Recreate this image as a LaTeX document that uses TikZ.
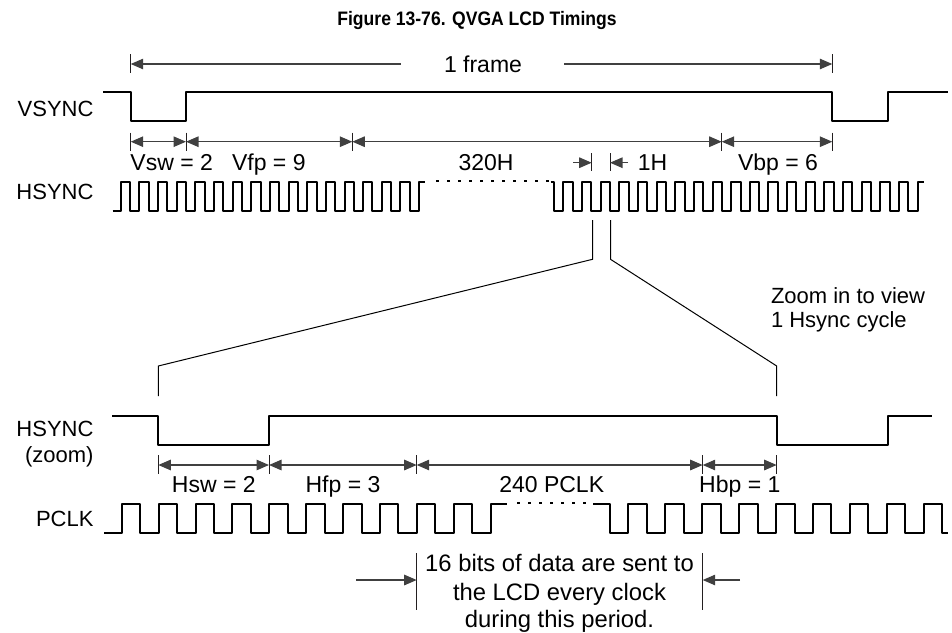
\documentclass[tikz,border=0pt]{standalone}
\usepackage{fontspec}
\setmainfont{Liberation Sans}
\newfontfamily\titlefont{Liberation Sans}[FakeStretch=0.9]
\usetikzlibrary{arrows.meta}
\definecolor{ink}{HTML}{231F20}
\definecolor{dimc}{HTML}{404040}
\begin{document}
\begin{tikzpicture}[x=1pt,y=-1pt,
  txt/.style={inner sep=0pt,outer sep=0pt,text=black,font=\fontsize{23}{28}\selectfont},
  lbl/.style={txt,anchor=base},
  sig/.style={txt,anchor=base east,font=\fontsize{22}{26}\selectfont},
  note/.style={txt,anchor=base,font=\fontsize{23.8}{28}\selectfont},
  ztxt/.style={txt,anchor=base west,font=\fontsize{22}{26}\selectfont},
  wave/.style={draw=black,line width=2pt,line join=round},
  thin/.style={draw=black,line width=1pt},
  dimline/.style={draw=dimc,line width=1.2pt},
  tick/.style={draw=ink,line width=1pt},
  dots/.style={draw=black,line width=2pt,dash pattern=on 2.5pt off 8.5pt},
  tip/.style={-{Triangle[length=12.5pt,width=10.5pt]}},
  tips/.style={{Triangle[length=12.5pt,width=10.5pt]}-{Triangle[length=12.5pt,width=10.5pt]}}]
\useasboundingbox (0,0) rectangle (952,632);

% Title
\node[txt,anchor=base,font=\titlefont\fontsize{19.5}{24}\selectfont\bfseries] (title) at (477,25) {Figure 13-76. QVGA LCD Timings};

% Signal labels
\node[sig] (lvs) at (93.5,116.5) {VSYNC};
\node[sig] (lhs) at (93.5,199.6) {HSYNC};
\node[sig] (lhz) at (93.5,436) {HSYNC};
\node[sig] (lzm) at (93.5,462) {(zoom)};
\node[sig] (lpc) at (93.5,526) {PCLK};

% 1 frame
\coordinate (fL) at (130.7,64); \coordinate (fR) at (832.3,64);
\draw[tick] (130.7,54) -- (130.7,73);
\draw[tick] (832.3,54) -- (832.3,73);
\node[lbl] (frame) at (483,72.3) {1 frame};
\draw[dimline,tip] (400.7,64) -- (fL);
\draw[dimline,tip] (564.3,64) -- (fR);

% VSYNC
\draw[wave] (103,92.3) -- (130.7,92.3) -- (130.7,121) -- (186,121) -- (186,92.3) -- (832.3,92.3) -- (832.3,121) -- (888.3,121) -- (888.3,92.3) -- (948.3,92.3);

% top dimensions
\foreach \x/\n in {130.7/a,186/b,352.3/c,721.7/d,832.3/e}{
  \coordinate (t\n) at (\x,141.7);
  \draw[tick] (\x,132.7) -- (\x,150.7);
}
\draw[dimline,tips] (ta) -- (tb);
\draw[dimline,tips] (tb) -- (tc);
\draw[dimline,tips] (tc) -- (td);
\draw[dimline,tips] (td) -- (te);
\node[lbl] (vsw) at (171.7,170) {Vsw = 2};
\node[lbl] (vfp) at (268.8,170) {Vfp = 9};
\node[lbl] (h320) at (486,170) {320H};
\node[lbl] (vbp) at (778,170) {Vbp = 6};

% 1H marker
\coordinate (hA) at (591.7,162.7); \coordinate (hB) at (610,162.7);
\draw[tick] (591.7,153) -- (591.7,171);
\draw[tick] (610,153) -- (610,171);
\draw[dimline,tip] (573.3,162.7) -- (hA);
\draw[dimline,tip] (628,162.7) -- (hB);
\node[lbl] (h1) at (652.5,170) {1H};

% HSYNC top, group 1
\draw[wave] (112.7,210.7) foreach \k in {0,...,15} {
  -- ({120.7+18.65*\k},210.7) -- ({120.7+18.65*\k},181.7)
  -- ({130.025+18.65*\k},181.7) -- ({130.025+18.65*\k},210.7) }
  -- (419.1,210.7) -- (419.1,181.7) -- (425,181.7);
\draw[dots] (436,180.5) -- (550,180.5);
% HSYNC top, group 2
\draw[wave] (550.5,181.7) foreach \k in {0,...,19} {
  -- ({554+18.65*\k},181.7) -- ({554+18.65*\k},210.7)
  -- ({563.325+18.65*\k},210.7) -- ({563.325+18.65*\k},181.7) }
  -- (923.5,181.7);

% zoom lines
\coordinate (zL1) at (592.5,220); \coordinate (zL2) at (592.5,259.3);
\coordinate (zL3) at (158.3,366); \coordinate (zL4) at (158.3,396);
\coordinate (zR1) at (610.5,220); \coordinate (zR2) at (610.5,259.3);
\coordinate (zR3) at (776.7,366); \coordinate (zR4) at (776.7,396);
\draw[thin] (zL1) -- (zL2) -- (zL3) -- (zL4);
\draw[thin] (zR1) -- (zR2) -- (zR3) -- (zR4);
\node[ztxt] (zt1) at (771,303) {Zoom in to view};
\node[ztxt] (zt2) at (771,327.5) {1 Hsync cycle};

% HSYNC zoom
\draw[wave] (112.3,416) -- (158.3,416) -- (158.3,445) -- (269,445) -- (269,416) -- (776.7,416) -- (776.7,445) -- (888.3,445) -- (888.3,416) -- (931.7,416);

% lower dimensions
\foreach \x/\n in {158.3/a,269/b,416.7/c,702.7/d,776.7/e}{
  \coordinate (b\n) at (\x,465);
  \draw[tick] (\x,455) -- (\x,474);
}
\draw[dimline,tips] (ba) -- (bb);
\draw[dimline,tips] (bb) -- (bc);
\draw[dimline,tips] (bc) -- (bd);
\draw[dimline,tips] (bd) -- (be);
\node[lbl] (hsw) at (213.8,492.7) {Hsw = 2};
\node[lbl] (hfp) at (343,492.7) {Hfp = 3};
\node[lbl] (p240) at (551.7,492.7) {240 PCLK};
\node[lbl] (hbp) at (739.8,492.7) {Hbp = 1};

% PCLK part 1
\draw[wave] (104,532.7) foreach \k in {0,...,9} {
  -- ({121.7+36.9*\k},532.7) -- ({121.7+36.9*\k},504)
  -- ({140.15+36.9*\k},504) -- ({140.15+36.9*\k},532.7) }
  -- (490.7,532.7) -- (490.7,504) -- (507,504);
\draw[dots] (517,503.3) -- (588,503.3);
% PCLK part 2
\draw[wave] (593.3,504) foreach \k in {0,...,8} {
  -- ({610+36.9*\k},504) -- ({610+36.9*\k},532.7)
  -- ({628.45+36.9*\k},532.7) -- ({628.45+36.9*\k},504) }
  -- (942.1,504) -- (942.1,532.7) -- (948,532.7);

% bottom annotation
\coordinate (dA) at (416.7,580); \coordinate (dB) at (702.7,580);
\draw[tick] (416.7,553) -- (416.7,610);
\draw[tick] (702.7,553) -- (702.7,610);
\draw[dimline,tip] (356,580) -- (dA);
\draw[dimline,tip] (740,580) -- (dB);
\node[note] (n1) at (559.5,571.7) {16 bits of data are sent to};
\node[note] (n2) at (559.5,600) {the LCD every clock};
\node[note] (n3) at (559.5,627.7) {during this period.};
\end{tikzpicture}
\end{document}
